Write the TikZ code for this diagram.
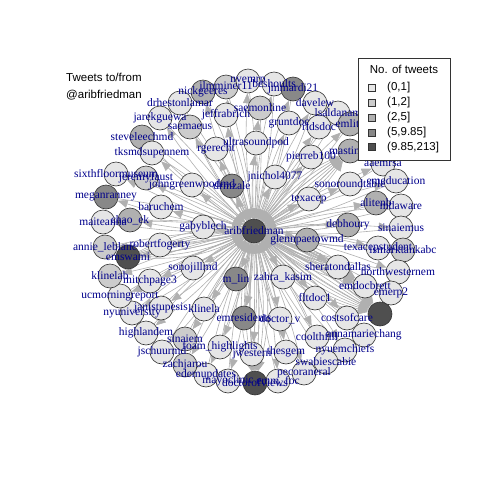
\documentclass[tikz,border=0pt]{standalone}
\usepackage{fontspec}
\setmainfont{Liberation Serif}
\newfontfamily\sansf{Liberation Sans}
\usetikzlibrary{arrows.meta}
\definecolor{lvA}{HTML}{E6E6E6}
\definecolor{lvB}{HTML}{CCCCCC}
\definecolor{lvC}{HTML}{B0B0B0}
\definecolor{lvD}{HTML}{888888}
\definecolor{lvE}{HTML}{4F4F4F}
\definecolor{labblue}{HTML}{00008B}
\definecolor{edgegray}{HTML}{B0B0B0}
\pgfdeclarelayer{edgelayer}
\pgfsetlayers{edgelayer,main}
\def\nodelist{n1/203/92/lvC/nickgeeres, n2/226/87/lvB/jlmminer11, n3/248/81/lvA/nvemrp, n4/274/84/lvA/bcshoults, n5/293/89/lvD/jmmardi21, n6/315/103/lvA/davelew, n7/338/113/lvA/lsaldanam, n8/350/124/lvC/emlitc, n9/180/103/lvA/drhestonlamar, n10/226/115/lvA/jeffrabrich, n11/260/108/lvB/saemonline, n12/160/118/lvA/jarekguewa, n13/190/127/lvB/saemaeus, n14/142/137/lvC/steveleechmd, n15/152/153/lvA/tksmdsupennem, n16/216/149/lvA/rgerecht, n17/256/143/lvA/ultrasoundpod, n18/289/123/lvA/gruntdoc, n19/319/127/lvA/rldsdoc, n20/311/157/lvA/pierreb100, n21/350/151/lvC/mastinzk, n22/383/164/lvA/aaemrsa, n23/396/181/lvA/emeducation, n24/350/184/lvA/sonoroundtable, n25/275/177/lvA/jnichol4077, n26/232/186/lvD/drmzale, n27/309/199/lvA/texacep, n28/376/203/lvC/alitenb, n29/401/206/lvA/mdaware, n30/348/225/lvC/debhoury, n31/401/228/lvA/sinaiemus, n32/307/240/lvC/glennpaetowmd, n33/378/248/lvA/texacepstudent, n34/403/250/lvB/ismarktankabc, n35/338/267/lvA/sheratondallas, n36/398/272/lvA/northwesternem, n37/365/286/lvA/emdocbrett, n38/391/293/lvA/emerp2, n39/380/314/lvE/{}, n40/347/318/lvA/costsofcare, n41/315/298/lvA/fltdoc1, n42/283/277/lvA/zahra\_kasim, n43/236/279/lvD/m\_lin, n44/280/319/lvA/doctor\_v, n45/244/318/lvD/emresidents, n46/317/337/lvA/coolthfill, n47/364/335/lvA/annamariechang, n48/345/350/lvA/nyuemchiefs, n49/326/362/lvA/swabiescabie, n50/286/352/lvA/thesgem, n51/304/373/lvA/pecoraneral, n52/252/354/lvA/jwestern, n53/220/347/lvA/foam\_highlights, n54/278/381/lvA/emm\_foc, n55/255/383/lvE/doctorofviews, n56/228/381/lvA/mayoclinic, n57/206/375/lvA/edemupdates, n58/185/365/lvB/zachjarou, n59/162/352/lvA/jschuurmd, n60/185/339/lvB/sinaiem, n61/146/333/lvA/highlandem, n62/204/309/lvA/klinela, n63/161/308/lvA/janistupesis, n64/132/313/lvA/nyuniversity, n65/120/296/lvA/ucmorningreport, n66/150/281/lvA/mitchpage3, n67/110/276/lvB/klinelab, n68/193/268/lvA/sonojillmd, n69/128/257/lvE/emswami, n70/105/247/lvB/annie\_leblanc, n71/160/245/lvA/robertfogerty, n72/203/227/lvA/gabyblech, n73/130/220/lvC/chao\_ek, n74/103/222/lvA/maiteanna, n75/161/207/lvA/baruchem, n76/106/197/lvD/meganranney, n77/192/185/lvA/johngreenwoodmd, n78/146/178/lvB/jeremyfaust, n79/116/174/lvA/sixthfloormuseum}
\begin{document}
\begin{tikzpicture}[x=1pt,y=-1pt,
  vtx/.style={circle, draw=black!80, line width=0.6pt, minimum size=24pt, inner sep=0pt},
  lab/.style={text=labblue, font=\fontsize{11.5}{13}\selectfont, inner sep=0pt},
  edg/.style={draw=edgegray, line width=0.6pt, -{Triangle[length=10pt,width=8pt]}},
  sanstext/.style={font=\sansf\fontsize{11.5}{13}\selectfont, inner sep=0pt},
  legsq/.style={draw=black!80, line width=0.5pt, minimum size=7pt, inner sep=0pt}]
\useasboundingbox (0,0) rectangle (480,480);
% vertices
\node[vtx, fill=lvE] (a) at (254,231) {};
\foreach \n/\x/\y/\c/\t in \nodelist {
  \node[vtx, fill=\c] (\n) at (\x,\y) {};
}
% edges
\begin{pgfonlayer}{edgelayer}
\foreach \n/\x/\y/\c/\t in \nodelist {
  \draw[edg] (a) to[bend left=5] (\n);
  \draw[edg] (\n) to[bend left=5] (a);
}
\foreach \b in {-24,-20,...,24} {\draw[edg] (a) to[bend left=\b] (n39);}
\foreach \b in {-15,-10,...,15} {\draw[edg] (a) to[bend left=\b] (n21);}
\foreach \b in {-15,-10,...,15} {\draw[edg] (n69) to[bend left=\b] (a);}
\foreach \b in {-15,-10,...,15} {\draw[edg] (a) to[bend left=\b] (n55);}
\foreach \b in {-12,-6,...,12} {\draw[edg] (n35) to[bend left=\b] (a);}
\foreach \b in {-12,-6,...,12} {\draw[edg] (a) to[bend left=\b] (n37);}
\end{pgfonlayer}
% labels
\node[lab] at (a) {aribfriedman};
\foreach \n/\x/\y/\c/\t in \nodelist {
  \node[lab] at (\n) {\t};
}
% title
\node[sanstext, anchor=west] (t1) at (66,77) {Tweets to/from};
\node[sanstext, anchor=west] (t2) at (66,95) {@aribfriedman};
% legend
\node[draw=black!80, fill=white, line width=0.5pt, minimum width=92pt, minimum height=102pt, inner sep=0pt] (leg) at (404,109) {};
\node[sanstext] (lt) at (404,69) {No. of tweets};
\foreach \i/\c/\t in {0/lvA/{(0,1]}, 1/lvB/{(1,2]}, 2/lvC/{(2,5]}, 3/lvD/{(5,9.85]}, 4/lvE/{(9.85,213]}} {
  \node[legsq, fill=\c] (sq\i) at (372,88+14.8*\i) {};
  \node[sanstext, anchor=west] (lg\i) at (387,88+14.8*\i) {\t};
}
\end{tikzpicture}
\end{document}
